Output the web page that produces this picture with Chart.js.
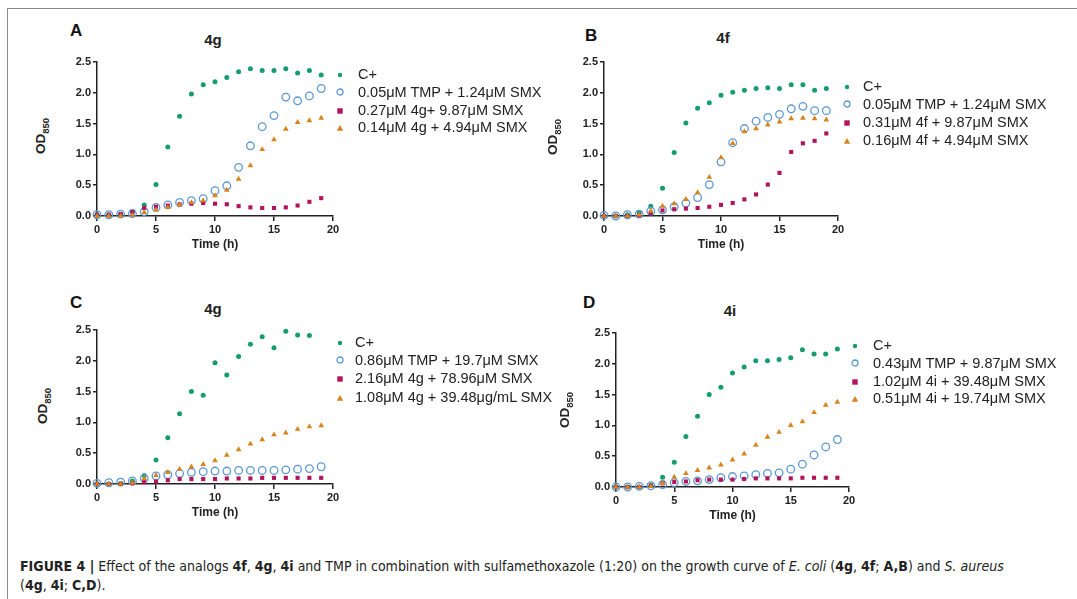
<!DOCTYPE html>
<html>
<head>
<meta charset="utf-8">
<script src="https://cdn.jsdelivr.net/npm/chart.js@4/dist/chart.umd.min.js"></script>
<style>
  html,body{margin:0;padding:0;background:#fff;}
  body{width:1077px;height:599px;position:relative;overflow:hidden;font-family:"Liberation Sans",Arial,sans-serif;color:#222;}
  .frameTop{position:absolute;left:8px;top:8px;width:1069px;height:0;border-top:1.5px solid #8a8a8a;}
  .frameLeft{position:absolute;left:7px;top:8px;width:0;height:591px;border-left:1.5px solid #8a8a8a;}
  canvas{position:absolute;}
  .letter{position:absolute;font-weight:bold;font-size:17px;line-height:17px;color:#111;}
  .ptitle{position:absolute;font-weight:bold;font-size:15px;line-height:15px;color:#222;transform:translate(-50%,-50%);}
  .ylab{position:absolute;font-weight:bold;font-size:13.5px;line-height:14px;color:#222;transform:translate(-50%,-50%) rotate(-90deg);white-space:nowrap;}
  .ylab sub{font-size:9.5px;vertical-align:-4px;}
  .leg{position:absolute;font-size:14.5px;line-height:15px;color:#222;white-space:nowrap;transform:translateY(-50%);}
  .mk{position:absolute;transform:translate(-50%,-50%);}
  .cap{position:absolute;left:20px;font-family:"Liberation Sans Narrow","DejaVu Sans Condensed",sans-serif;font-size:14px;line-height:14px;color:#222;white-space:nowrap;}
</style>
</head>
<body>
<div class="frameTop"></div>
<div class="frameLeft"></div>

<canvas id="cA" width="290" height="202" style="left:55px;top:50px"></canvas>
<canvas id="cB" width="288" height="202" style="left:562px;top:50px"></canvas>
<canvas id="cC" width="290" height="202" style="left:55px;top:318px"></canvas>
<canvas id="cD" width="287" height="202" style="left:574px;top:321px"></canvas>

<div class="letter" style="left:70px;top:22px">A</div>
<div class="letter" style="left:585px;top:27px">B</div>
<div class="letter" style="left:70px;top:294px">C</div>
<div class="letter" style="left:583px;top:294px">D</div>

<div class="ptitle" style="left:213px;top:39px">4g</div>
<div class="ptitle" style="left:723px;top:37px">4f</div>
<div class="ptitle" style="left:213px;top:308px">4g</div>
<div class="ptitle" style="left:730px;top:310px">4i</div>

<div class="ylab" style="left:43px;top:136px">OD<sub>850</sub></div>
<div class="ylab" style="left:555px;top:137px">OD<sub>850</sub></div>
<div class="ylab" style="left:45px;top:406px">OD<sub>850</sub></div>
<div class="ylab" style="left:567px;top:410px">OD<sub>850</sub></div>

<div id="legends"></div>

<div class="cap" style="top:559px"><b>FIGURE 4 |</b> Effect of the analogs <b>4f</b>, <b>4g</b>, <b>4i</b> and TMP in combination with sulfamethoxazole (1:20) on the growth curve of <i>E. coli</i> (<b>4g</b>, <b>4f</b>; <b>A,B</b>) and <i>S. aureus</i></div>
<div class="cap" style="top:578px">(<b>4g</b>, <b>4i</b>; <b>C,D</b>).</div>

<script>
// ---------- DATA ----------
const timeH = [0,1,2,3,4,5,6,7,8,9,10,11,12,13,14,15,16,17,18,19];
const timeC18 = [0,1,2,3,4,5,6,7,8,9,10,11,12,13,14,15,16,17,18];
const xTicks = [0,5,10,15,20];
const yTicks = [0,0.5,1.0,1.5,2.0,2.5];

// Panel A (4g, E. coli)
const labelsA = ["C+","0.05μM TMP + 1.24μM SMX","0.27μM 4g+ 9.87μM SMX","0.14μM 4g + 4.94μM SMX"];
const A_ctrl = [0.02,0.02,0.03,0.07,0.18,0.51,1.12,1.62,1.98,2.13,2.18,2.25,2.34,2.39,2.36,2.36,2.39,2.32,2.36,2.29];
const A_tmp  = [0.02,0.02,0.03,0.04,0.07,0.14,0.18,0.22,0.25,0.28,0.41,0.49,0.79,1.14,1.45,1.63,1.93,1.87,1.95,2.07];
const A_hi   = [0.02,0.02,0.03,0.06,0.13,0.15,0.17,0.19,0.20,0.21,0.20,0.19,0.16,0.14,0.13,0.13,0.14,0.17,0.23,0.29];
const A_lo   = [0.00,0.00,0.00,0.01,0.06,0.10,0.14,0.18,0.22,0.25,0.33,0.42,0.60,0.82,1.08,1.24,1.41,1.52,1.55,1.59];

// Panel B (4f, E. coli)
const labelsB = ["C+","0.05μM TMP + 1.24μM SMX","0.31μM 4f + 9.87μM SMX","0.16μM 4f + 4.94μM SMX"];
const B_ctrl = [0.00,0.00,0.02,0.06,0.16,0.45,1.03,1.51,1.75,1.84,1.96,2.01,2.04,2.07,2.08,2.07,2.13,2.13,2.04,2.07];
const B_tmp  = [0.01,0.00,0.02,0.03,0.08,0.10,0.15,0.21,0.30,0.51,0.88,1.19,1.42,1.54,1.60,1.65,1.74,1.78,1.71,1.71];
const B_hi   = [0.00,0.00,0.00,0.01,0.05,0.09,0.11,0.12,0.13,0.15,0.18,0.21,0.27,0.35,0.51,0.70,1.04,1.18,1.22,1.34];
const B_lo   = [0.00,0.00,0.00,0.02,0.08,0.16,0.20,0.27,0.38,0.63,0.95,1.18,1.37,1.42,1.48,1.53,1.58,1.59,1.58,1.56];

// Panel C (4g, S. aureus)
const labelsC = ["C+","0.86μM TMP + 19.7μM SMX","2.16μM 4g + 78.96μM SMX","1.08μM 4g + 39.48μg/mL SMX"];
const C_ctrl = [0.00,0.00,0.01,0.05,0.14,0.39,0.75,1.14,1.50,1.44,1.97,1.77,2.07,2.27,2.39,2.21,2.48,2.42,2.41];
const C_tmp  = [0.01,0.02,0.03,0.05,0.09,0.13,0.15,0.17,0.19,0.20,0.21,0.21,0.22,0.22,0.22,0.22,0.23,0.24,0.25,0.28];
const C_hi   = [0.00,0.00,0.00,0.01,0.03,0.04,0.06,0.08,0.08,0.08,0.08,0.09,0.09,0.09,0.10,0.10,0.10,0.10,0.10,0.10];
const C_lo   = [0.00,0.00,0.00,0.02,0.09,0.14,0.19,0.24,0.28,0.32,0.38,0.47,0.56,0.65,0.72,0.80,0.83,0.89,0.93,0.95];

// Panel D (4i, S. aureus)
const labelsD = ["C+","0.43μM TMP + 9.87μM SMX","1.02μM 4i + 39.48μM SMX","0.51μM 4i + 19.74μM SMX"];
const D_ctrl = [0.00,0.00,0.00,0.03,0.16,0.40,0.82,1.15,1.50,1.62,1.85,1.95,2.05,2.05,2.07,2.10,2.23,2.16,2.16,2.24];
const D_tmp  = [0.00,0.00,0.01,0.02,0.04,0.07,0.09,0.10,0.12,0.15,0.17,0.18,0.20,0.22,0.23,0.29,0.37,0.52,0.65,0.77];
const D_hi   = [0.00,0.00,0.00,0.02,0.06,0.08,0.09,0.11,0.12,0.12,0.12,0.13,0.14,0.14,0.14,0.14,0.15,0.15,0.15,0.15];
const D_lo   = [0.00,0.00,0.00,0.01,0.06,0.16,0.22,0.27,0.31,0.36,0.44,0.54,0.68,0.81,0.89,1.00,1.06,1.21,1.33,1.38];

// ---------- STYLE ----------
const GREEN = '#169d6f', BLUE = '#5b97d3', RED = '#b3125c', ORANGE = '#d8831c';
const FONT = '"Liberation Sans", Arial, sans-serif';

function pts(t, v){ return t.map((x,i)=>({x:x, y:v[i]})); }

function series(labels, tC, ctrl, tmp, hi, lo){
  return [
    {label:labels[3], data:pts(timeH, lo), pointStyle:'triangle', pointRadius:3.3, backgroundColor:ORANGE, borderColor:ORANGE, borderWidth:0},
    {label:labels[2], data:pts(timeH, hi), pointStyle:'rect', pointRadius:2.9, backgroundColor:RED, borderColor:RED, borderWidth:0},
    {label:labels[1], data:pts(timeH, tmp), pointStyle:'circle', pointRadius:3.8, backgroundColor:'rgba(255,255,255,0)', borderColor:BLUE, borderWidth:1.3},
    {label:labels[0], data:pts(tC, ctrl), pointStyle:'circle', pointRadius:2.5, backgroundColor:GREEN, borderColor:GREEN, borderWidth:0}
  ].map(d=>Object.assign(d,{showLine:false, clip:false, pointHoverRadius:d.pointRadius}));
}

function makeChart(id, datasets){
  new Chart(document.getElementById(id), {
    type:'scatter',
    data:{datasets:datasets},
    options:{
      responsive:false, animation:false, devicePixelRatio:1,
      layout:{padding:{top:12,right:12,left:0,bottom:0}},
      plugins:{legend:{display:false}, tooltip:{enabled:false}},
      scales:{
        x:{type:'linear', min:0, max:20,
           afterBuildTicks:(s)=>{ s.ticks = xTicks.map(v=>({value:v})); },
           ticks:{color:'#222', font:{family:FONT,size:11,weight:'bold'}, padding:2, maxRotation:0},
           grid:{drawOnChartArea:false, drawTicks:true, tickLength:5, color:'#222', lineWidth:1.5},
           border:{display:true, color:'#222', width:1.5},
           title:{display:true, text:'Time (h)', color:'#222', font:{family:FONT,size:12,weight:'bold'}, padding:{top:2,bottom:0}},
           afterFit:(s)=>{ s.height = 36; }
        },
        y:{type:'linear', min:0, max:2.5,
           afterBuildTicks:(s)=>{ s.ticks = yTicks.map(v=>({value:v})); },
           ticks:{color:'#222', font:{family:FONT,size:11,weight:'bold'}, padding:2, callback:(v)=>Number(v).toFixed(1)},
           grid:{drawOnChartArea:false, drawTicks:true, tickLength:4, color:'#222', lineWidth:1.5},
           border:{display:true, color:'#222', width:1.5},
           afterFit:(s)=>{ s.width = 42; }
        }
      }
    }
  });
}

makeChart('cA', series(labelsA, timeH, A_ctrl, A_tmp, A_hi, A_lo));
makeChart('cB', series(labelsB, timeH, B_ctrl, B_tmp, B_hi, B_lo));
makeChart('cC', series(labelsC, timeC18, C_ctrl, C_tmp, C_hi, C_lo));
makeChart('cD', series(labelsD, timeH, D_ctrl, D_tmp, D_hi, D_lo));

// ---------- LEGENDS (HTML text) ----------
const legendPos = [
  {labels:labelsA, mx:340, tx:358, ys:[74,92,110,127]},
  {labels:labelsB, mx:847, tx:863, ys:[86,104,122,140]},
  {labels:labelsC, mx:340, tx:355, ys:[342,360,378,397]},
  {labels:labelsD, mx:855, tx:873, ys:[345,363,381,398]}
];
function markerHTML(k){
  if(k===0) return `<svg width="8" height="8"><circle cx="4" cy="4" r="2.2" fill="${GREEN}"/></svg>`;
  if(k===1) return `<svg width="10" height="10"><circle cx="5" cy="5" r="3" fill="none" stroke="${BLUE}" stroke-width="1.3"/></svg>`;
  if(k===2) return `<svg width="8" height="8"><rect x="1.3" y="1.3" width="5.4" height="5.4" fill="${RED}"/></svg>`;
  return `<svg width="8" height="8"><polygon points="4,1 7.2,6.8 0.8,6.8" fill="${ORANGE}"/></svg>`;
}
const lg = document.getElementById('legends');
legendPos.forEach(p=>{
  p.labels.forEach((lab,k)=>{
    const m = document.createElement('div');
    m.className='mk'; m.style.left=p.mx+'px'; m.style.top=p.ys[k]+'px';
    m.innerHTML = markerHTML(k);
    lg.appendChild(m);
    const t = document.createElement('div');
    t.className='leg'; t.style.left=p.tx+'px'; t.style.top=p.ys[k]+'px';
    t.textContent = lab;
    lg.appendChild(t);
  });
});
</script>
</body>
</html>
